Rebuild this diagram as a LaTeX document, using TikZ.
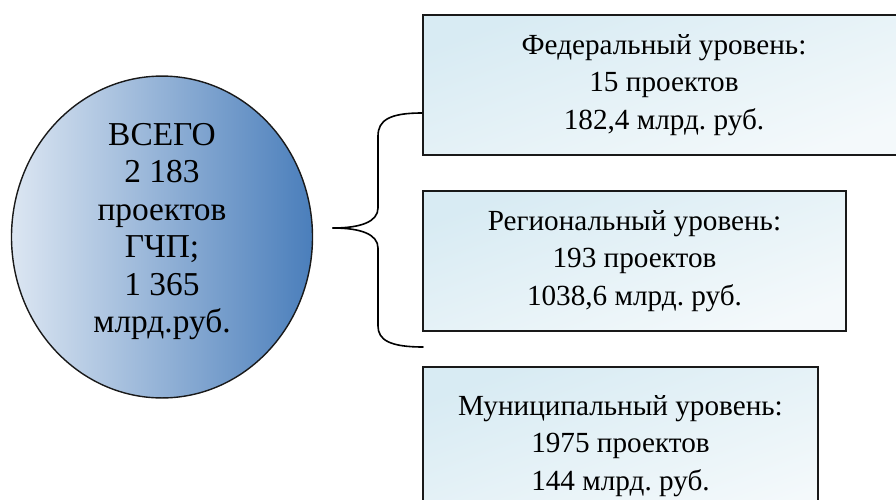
\documentclass[tikz,border=0pt]{standalone}
\usepackage{fontspec}
\setmainfont{Liberation Serif}
\usetikzlibrary{shapes.geometric}
\definecolor{ovalL}{RGB}{220,230,242}
\definecolor{ovalM}{RGB}{176,196,224}
\definecolor{ovalR}{RGB}{74,126,187}
\definecolor{boxT}{RGB}{216,235,243}
\definecolor{boxB}{RGB}{244,249,251}
\definecolor{edge}{RGB}{25,25,25}
\tikzset{
  total/.style={ellipse, draw=edge, line width=0.7pt, inner sep=0pt,
    minimum width=150.5pt, minimum height=152.5pt,
    shading=axis, left color=ovalL, middle color=ovalM, right color=ovalR,
    align=center, text depth=9pt,
    font=\rmfamily\fontsize{16.7}{18.75}\selectfont},
  level/.style={rectangle, draw=edge, line width=1.15pt, inner sep=0pt,
    minimum height=70pt,
    top color=boxT, bottom color=boxB, shading angle=20,
    align=center, font=\rmfamily\fontsize{14.6}{18.7}\selectfont},
  brace/.style={draw=black, line width=0.8pt, line cap=round}
}
\frenchspacing
\begin{document}
\begin{tikzpicture}[x=0.5pt, y=-0.5pt]
  \useasboundingbox (0,0) rectangle (896,499);
  \clip (0,0) rectangle (896,499);
  \fill[white] (0,0) rectangle (896,499);

  % total number of projects
  \node[total] (all) at (162,237)
    {ВСЕГО\\2 183\\проектов\\ГЧП;\\1 365\\млрд.руб.};

  % levels
  \node[level, minimum width=241pt] (fed) at (664,85)
    {Федеральный уровень:\\15 проектов\\182,4 млрд. руб.};
  \node[level, minimum width=211.5pt] (reg) at (634.5,261)
    {Региональный уровень:\\193 проектов\\1038,6 млрд. руб.};
  \node[level, minimum width=197.5pt, minimum height=79pt] (mun) at (620.5,446)
    {Муниципальный уровень:\\1975 проектов\\144 млрд. руб.};

  % curly brace grouping the levels
  \coordinate (tip) at (333,228);
  \coordinate (braceTop) at (fed.west |- 0,113);
  \coordinate (braceBot) at (423,347);
  \path[brace] (braceTop) .. controls (390,113) and (378,120) .. (378,136)
    -- (378,208) .. controls (378,222) and (360,228) .. (tip);
  \path[brace] (tip) .. controls (360,228) and (378,234) .. (378,248)
    -- (378,326) .. controls (378,340) and (390,347) .. (braceBot);
\end{tikzpicture}
\end{document}
